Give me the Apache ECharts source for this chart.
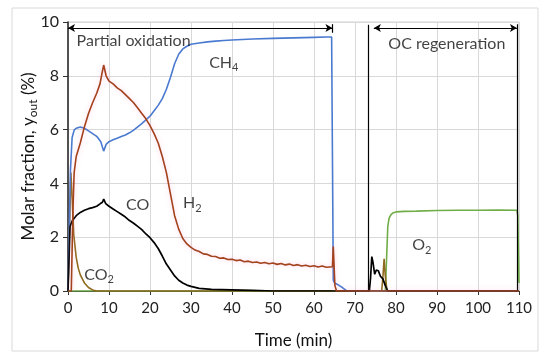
<!DOCTYPE html>
<html><head><meta charset="utf-8">
<script src="https://cdn.jsdelivr.net/npm/echarts@6/dist/echarts.min.js"></script>
<style>html,body{margin:0;padding:0;background:#fff}#c{width:550px;height:361px}</style>
</head><body><div id="c"></div>
<script>
// ---- data (time in min, molar fraction in %) ----
const ch4T=[0,0.3,0.6,1.0,1.5,2,3,4,5,6,7,8,8.7,9.3,10,11,12,13,14,15,16,17,18,19,20,21,22,23,24,25,26,27,28,29,30,32,34,36,38,40,45,50,55,60,63,64.3,64.5,64.7,65,66,67,68,110];
const ch4V=[0,0,4.5,5.7,5.98,6.05,6.1,6.05,5.95,5.85,5.75,5.55,5.2,5.45,5.55,5.62,5.68,5.74,5.8,5.88,5.98,6.1,6.22,6.36,6.5,6.7,6.9,7.15,7.5,7.95,8.45,8.8,9.0,9.1,9.17,9.22,9.26,9.29,9.31,9.33,9.37,9.39,9.41,9.43,9.44,9.44,5.0,0.4,0.3,0.22,0.12,0,0];

const h2T=[0,0.8,1.0,1.2,1.5,2,3,4,5,6,7,7.8,8.3,8.7,9.3,10,11,12,13,14,15,16,17,18,19,20,21,22,23,24,25,26,27,28,29,30,31,32,33,34,35,36,37,38,39,40,41,42,43,44,45,46,47,48,49,50,51,52,53,54,55,56,57,58,59,60,61,62,63,64.5,64.7,64.9,65.1,65.5,110];
const h2V=[0,0,1.5,3.0,4.4,5.0,5.5,6.1,6.6,7.0,7.35,7.7,8.1,8.4,8.0,7.8,7.7,7.55,7.45,7.3,7.15,7.0,6.8,6.6,6.4,6.15,5.85,5.5,5.0,4.4,3.6,2.8,2.3,1.95,1.75,1.62,1.52,1.47,1.38,1.36,1.29,1.28,1.22,1.23,1.17,1.18,1.13,1.15,1.09,1.11,1.06,1.08,1.03,1.06,1.01,1.04,0.99,1.02,0.97,1.0,0.95,0.98,0.93,0.96,0.91,0.94,0.89,0.93,0.88,0.9,1.65,1.6,0.2,0,0];

const coT=[0,0.3,0.5,1,2,3,4,5,6,7,7.9,8.4,8.7,9.2,10,11,12,13,14,15,16,17,18,19,20,21,22,23,24,25,26,27,28,29,30,32,35,40,45,50,64,73.5,73.8,74.1,74.4,74.8,75.2,75.7,76.2,76.8,77.4,78,110];
const coV=[0,0,2.4,2.6,2.8,2.92,3.0,3.06,3.1,3.15,3.25,3.3,3.42,3.25,3.15,3.05,2.95,2.85,2.75,2.62,2.52,2.4,2.28,2.12,1.98,1.8,1.58,1.3,1.0,0.78,0.56,0.4,0.3,0.22,0.17,0.1,0.06,0.04,0.02,0,0,0,0.5,1.28,1.05,0.62,0.78,0.75,0.55,0.45,0.2,0,0];

const co2T=[0,0.4,0.7,1.0,1.4,2.0,2.5,3,4,5,6,7,76.5,76.8,77.1,77.4,77.8,110];
const co2V=[0,0,4.4,3.5,2.1,1.25,0.85,0.6,0.3,0.13,0.04,0,0,0.5,1.2,0.55,0,0];

const o2T=[0,77.4,77.7,78,78.3,78.7,79.2,80,82,85,90,95,100,105,109.5,109.7,110];
const o2V=[0,0,1.2,2.4,2.7,2.82,2.9,2.94,2.96,2.97,2.99,3.0,3.0,3.01,3.0,2.8,0.3];

// annotations (data coordinates)
const phaseArrowV=9.78;
const poxStart=0, poxEnd=64.5;
const regStart=74.6, regEnd=109.5, regLine=73.3;
const labelTexts=['Partial oxidation','{n|CH}{s|4}','{n|CO}','{n|H}{s|2}','{n|CO}{s|2}','{n|O}{s|2}','OC regeneration'];
const labelT=[16.0,38.0,17.0,30.3,7.6,86.3,92.4];
const labelV=[9.3,8.5,3.2,3.27,0.6,1.7,9.2];

const xTicks={min:0,max:110,interval:10};
const yTicks={min:0,max:10,interval:2};

const zip=(t,v)=>t.map((x,i)=>[x,v[i]]);
const FONT='Lato';
const chart=echarts.init(document.getElementById('c'));
const lineBase={type:'line',showSymbol:false,symbol:'none',animation:false,silent:true};
chart.setOption({
  animation:false,
  backgroundColor:'#fff',
  graphic:[{type:'rect',shape:{x:12,y:8,width:526,height:343},style:{fill:'none',stroke:'#d9d9d9',lineWidth:1},silent:true}],
  grid:{left:68,right:31,top:22,bottom:70,show:true,borderColor:'#d0d0d0',borderWidth:1},
  xAxis:{type:'value',min:xTicks.min,max:xTicks.max,interval:xTicks.interval,
    name:'Time (min)',nameLocation:'middle',nameGap:41,nameMoveOverlap:false,
    nameTextStyle:{fontFamily:FONT,fontSize:17,color:'#111'},
    axisLine:{show:true,lineStyle:{color:'#333',width:1}},
    axisTick:{show:true,length:4,lineStyle:{color:'#333'}},
    axisLabel:{fontFamily:FONT,fontSize:15,color:'#222',margin:10},
    splitLine:{show:true,lineStyle:{color:'#d9d9d9',width:1}}},
  yAxis:{type:'value',min:yTicks.min,max:yTicks.max,interval:yTicks.interval,
    name:'{a|Molar fraction, y}{b|out}{a| (%)}',nameLocation:'middle',nameGap:29,nameRotate:90,nameMoveOverlap:false,
    nameTextStyle:{rich:{a:{fontFamily:FONT,fontSize:17,color:'#111'},b:{fontFamily:FONT,fontSize:12,color:'#111',padding:[9,0,0,0]}}},
    axisLine:{show:true,lineStyle:{color:'#222',width:1.5}},
    axisTick:{show:true,length:5,lineStyle:{color:'#333'}},
    axisLabel:{fontFamily:FONT,fontSize:16,color:'#222',margin:9},
    splitLine:{show:true,lineStyle:{color:'#d9d9d9',width:1}}},
  series:[
    Object.assign({},lineBase,{name:'O2',z:2,data:zip(o2T,o2V),lineStyle:{color:'#70AD47',width:1.6}}),
    Object.assign({},lineBase,{name:'CO2',z:3,data:zip(co2T,co2V),lineStyle:{color:'#8F6A1E',width:1.6}}),
    Object.assign({},lineBase,{name:'CH4',z:4,data:zip(ch4T,ch4V),lineStyle:{color:'#4A7AD0',width:1.6}}),
    Object.assign({},lineBase,{name:'CO',z:5,data:zip(coT,coV),lineStyle:{color:'#000',width:1.7},
      markLine:{silent:true,animation:false,symbol:['arrow','arrow'],symbolSize:[6,7],
        label:{show:false},lineStyle:{color:'#000',width:1.2,type:'solid'},
        data:[
          [{coord:[poxStart,phaseArrowV]},{coord:[poxEnd,phaseArrowV]}],
          [{coord:[regStart,phaseArrowV]},{coord:[regEnd,phaseArrowV]}],
          [{coord:[poxEnd,9.6],symbol:'none'},{coord:[poxEnd,9.92],symbol:'none'}],
          [{coord:[regLine,0],symbol:'none'},{coord:[regLine,9.9],symbol:'none'}],
          [{coord:[regEnd,0],symbol:'none'},{coord:[regEnd,9.92],symbol:'none'}]
        ]}}),
    Object.assign({},lineBase,{name:'H2',z:6,data:zip(h2T,h2V),
      lineStyle:{color:'#A3421C',width:1.6,shadowColor:'rgba(255,150,205,0.45)',shadowBlur:5}}),
    {type:'scatter',z:10,silent:true,symbolSize:0,animation:false,
      data:labelT.map((t,i)=>({value:[t,labelV[i]],label:{formatter:labelTexts[i]}})),
      label:{show:true,position:'inside',fontFamily:FONT,fontSize:16,color:'#111',
        rich:{n:{fontFamily:FONT,fontSize:16,color:'#111'},s:{fontFamily:FONT,fontSize:11,color:'#111',padding:[10,0,0,0]}}}}
  ]
});
</script></body></html>
